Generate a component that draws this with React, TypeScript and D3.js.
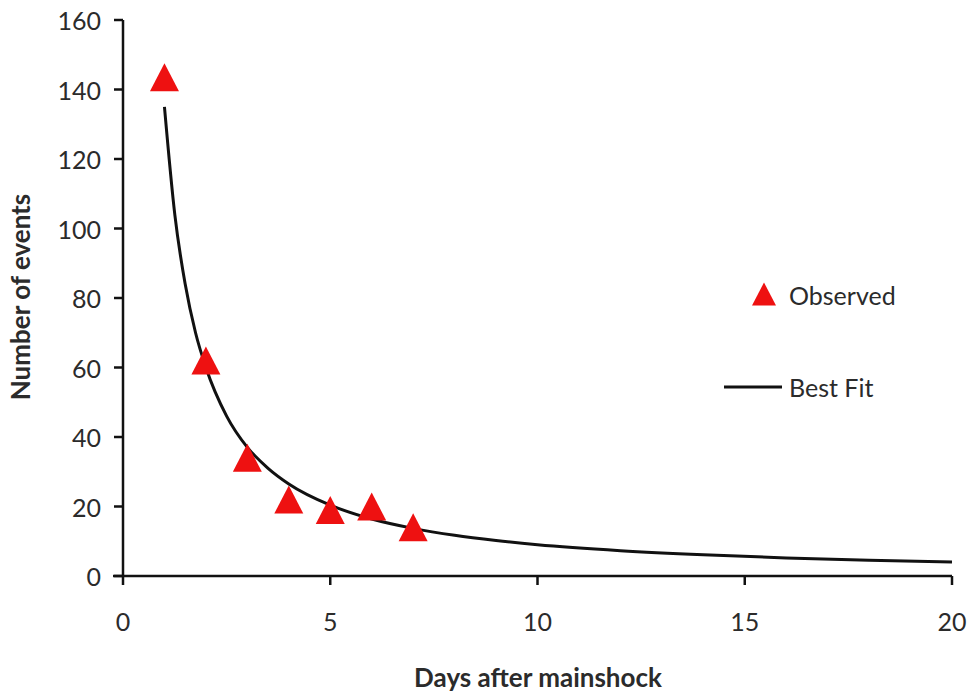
import * as d3 from 'd3'
import React from 'react'

// observed aftershock counts per day
const obsDays = [1, 2, 3, 4, 5, 6, 7]
const obsCounts = [143.5, 62, 34, 22, 19, 20, 14]

// best fit curve
const fitDays = [1, 1.25, 1.5, 1.75, 2, 2.5, 3, 3.5, 4, 5, 6, 7, 8, 9, 10, 12, 14, 16, 18, 20]
const fitCounts = [135, 104, 84, 70, 60, 46, 37, 31, 26.5, 20.4, 16.4, 13.7, 11.7, 10.2, 9, 7.3, 6.1, 5.2, 4.5, 4]

const xTicks = [0, 5, 10, 15, 20]
const yTicks = [0, 20, 40, 60, 80, 100, 120, 140, 160]

const W = 971
const H = 693
const margin = { top: 20, right: 19, bottom: 117, left: 123 }
const font = 'Lato, "Open Sans", sans-serif'
const textColor = '#2b2b2b'

// triangle centred on its bounding box, like the spreadsheet markers
const triangle = (w: number, h: number) => {
    const p = d3.path()
    p.moveTo(0, -h / 2)
    p.lineTo(w / 2, h / 2)
    p.lineTo(-w / 2, h / 2)
    p.closePath()
    return p.toString()
}

const App = () => {
    const x = d3.scaleLinear().domain([0, 20]).range([margin.left, W - margin.right])
    const y = d3.scaleLinear().domain([0, 160]).range([H - margin.bottom, margin.top])

    const line = d3
        .line<number>()
        .x((_, i) => x(fitDays[i]))
        .y((d) => y(d))
        .curve(d3.curveMonotoneX)

    const bigTri = triangle(29, 28)
    const smallTri = triangle(24, 23)

    const x0 = x(0)
    const y0 = y(0)

    return (
        <div style={{ position: 'absolute', left: 0, top: 0 }}>
            <svg width={W} height={H} style={{ display: 'block', background: '#fff' }}>
                {/* y axis */}
                <line x1={x0} x2={x0} y1={y(160)} y2={y0 + 1} stroke="#111" strokeWidth={2.5} />
                {yTicks.map((t) => (
                    <g key={'y' + t}>
                        <line x1={x0 - 9} x2={x0} y1={y(t)} y2={y(t)} stroke="#111" strokeWidth={2.5} />
                        <text
                            x={x0 - 22}
                            y={y(t)}
                            textAnchor="end"
                            dominantBaseline="central"
                            fontFamily={font}
                            fontSize={25}
                            fill={textColor}
                        >
                            {t}
                        </text>
                    </g>
                ))}

                {/* x axis */}
                <line x1={x0 - 10} x2={x(20)} y1={y0} y2={y0} stroke="#111" strokeWidth={2.5} />
                {xTicks.map((t) => (
                    <g key={'x' + t}>
                        <line x1={x(t)} x2={x(t)} y1={y0} y2={y0 + 9} stroke="#111" strokeWidth={2.5} />
                        <text
                            x={x(t)}
                            y={y0 + 45}
                            textAnchor="middle"
                            dominantBaseline="central"
                            fontFamily={font}
                            fontSize={25}
                            fill={textColor}
                        >
                            {t}
                        </text>
                    </g>
                ))}

                {/* titles */}
                <text
                    x={538}
                    y={677}
                    textAnchor="middle"
                    dominantBaseline="central"
                    fontFamily={font}
                    fontWeight="bold"
                    fontSize={26}
                    fill={textColor}
                >
                    Days after mainshock
                </text>
                <text
                    transform="translate(20, 297) rotate(-90)"
                    textAnchor="middle"
                    dominantBaseline="central"
                    fontFamily={font}
                    fontWeight="bold"
                    fontSize={26}
                    fill={textColor}
                >
                    Number of events
                </text>

                {/* fit curve */}
                <path d={line(fitCounts) || ''} fill="none" stroke="#111" strokeWidth={3} />

                {/* observed points */}
                {obsDays.map((d, i) => (
                    <path
                        key={'p' + d}
                        d={bigTri}
                        transform={`translate(${x(d)}, ${y(obsCounts[i])})`}
                        fill="#ee1111"
                    />
                ))}

                {/* legend */}
                <path d={smallTri} transform="translate(764, 294)" fill="#ee1111" />
                <text x={789} y={295} dominantBaseline="central" fontFamily={font} fontSize={25} fill={textColor}>
                    Observed
                </text>
                <line x1={724} x2={782} y1={387} y2={387} stroke="#111" strokeWidth={3} />
                <text x={789} y={387} dominantBaseline="central" fontFamily={font} fontSize={25} fill={textColor}>
                    Best Fit
                </text>
            </svg>
        </div>
    )
}

export default App
